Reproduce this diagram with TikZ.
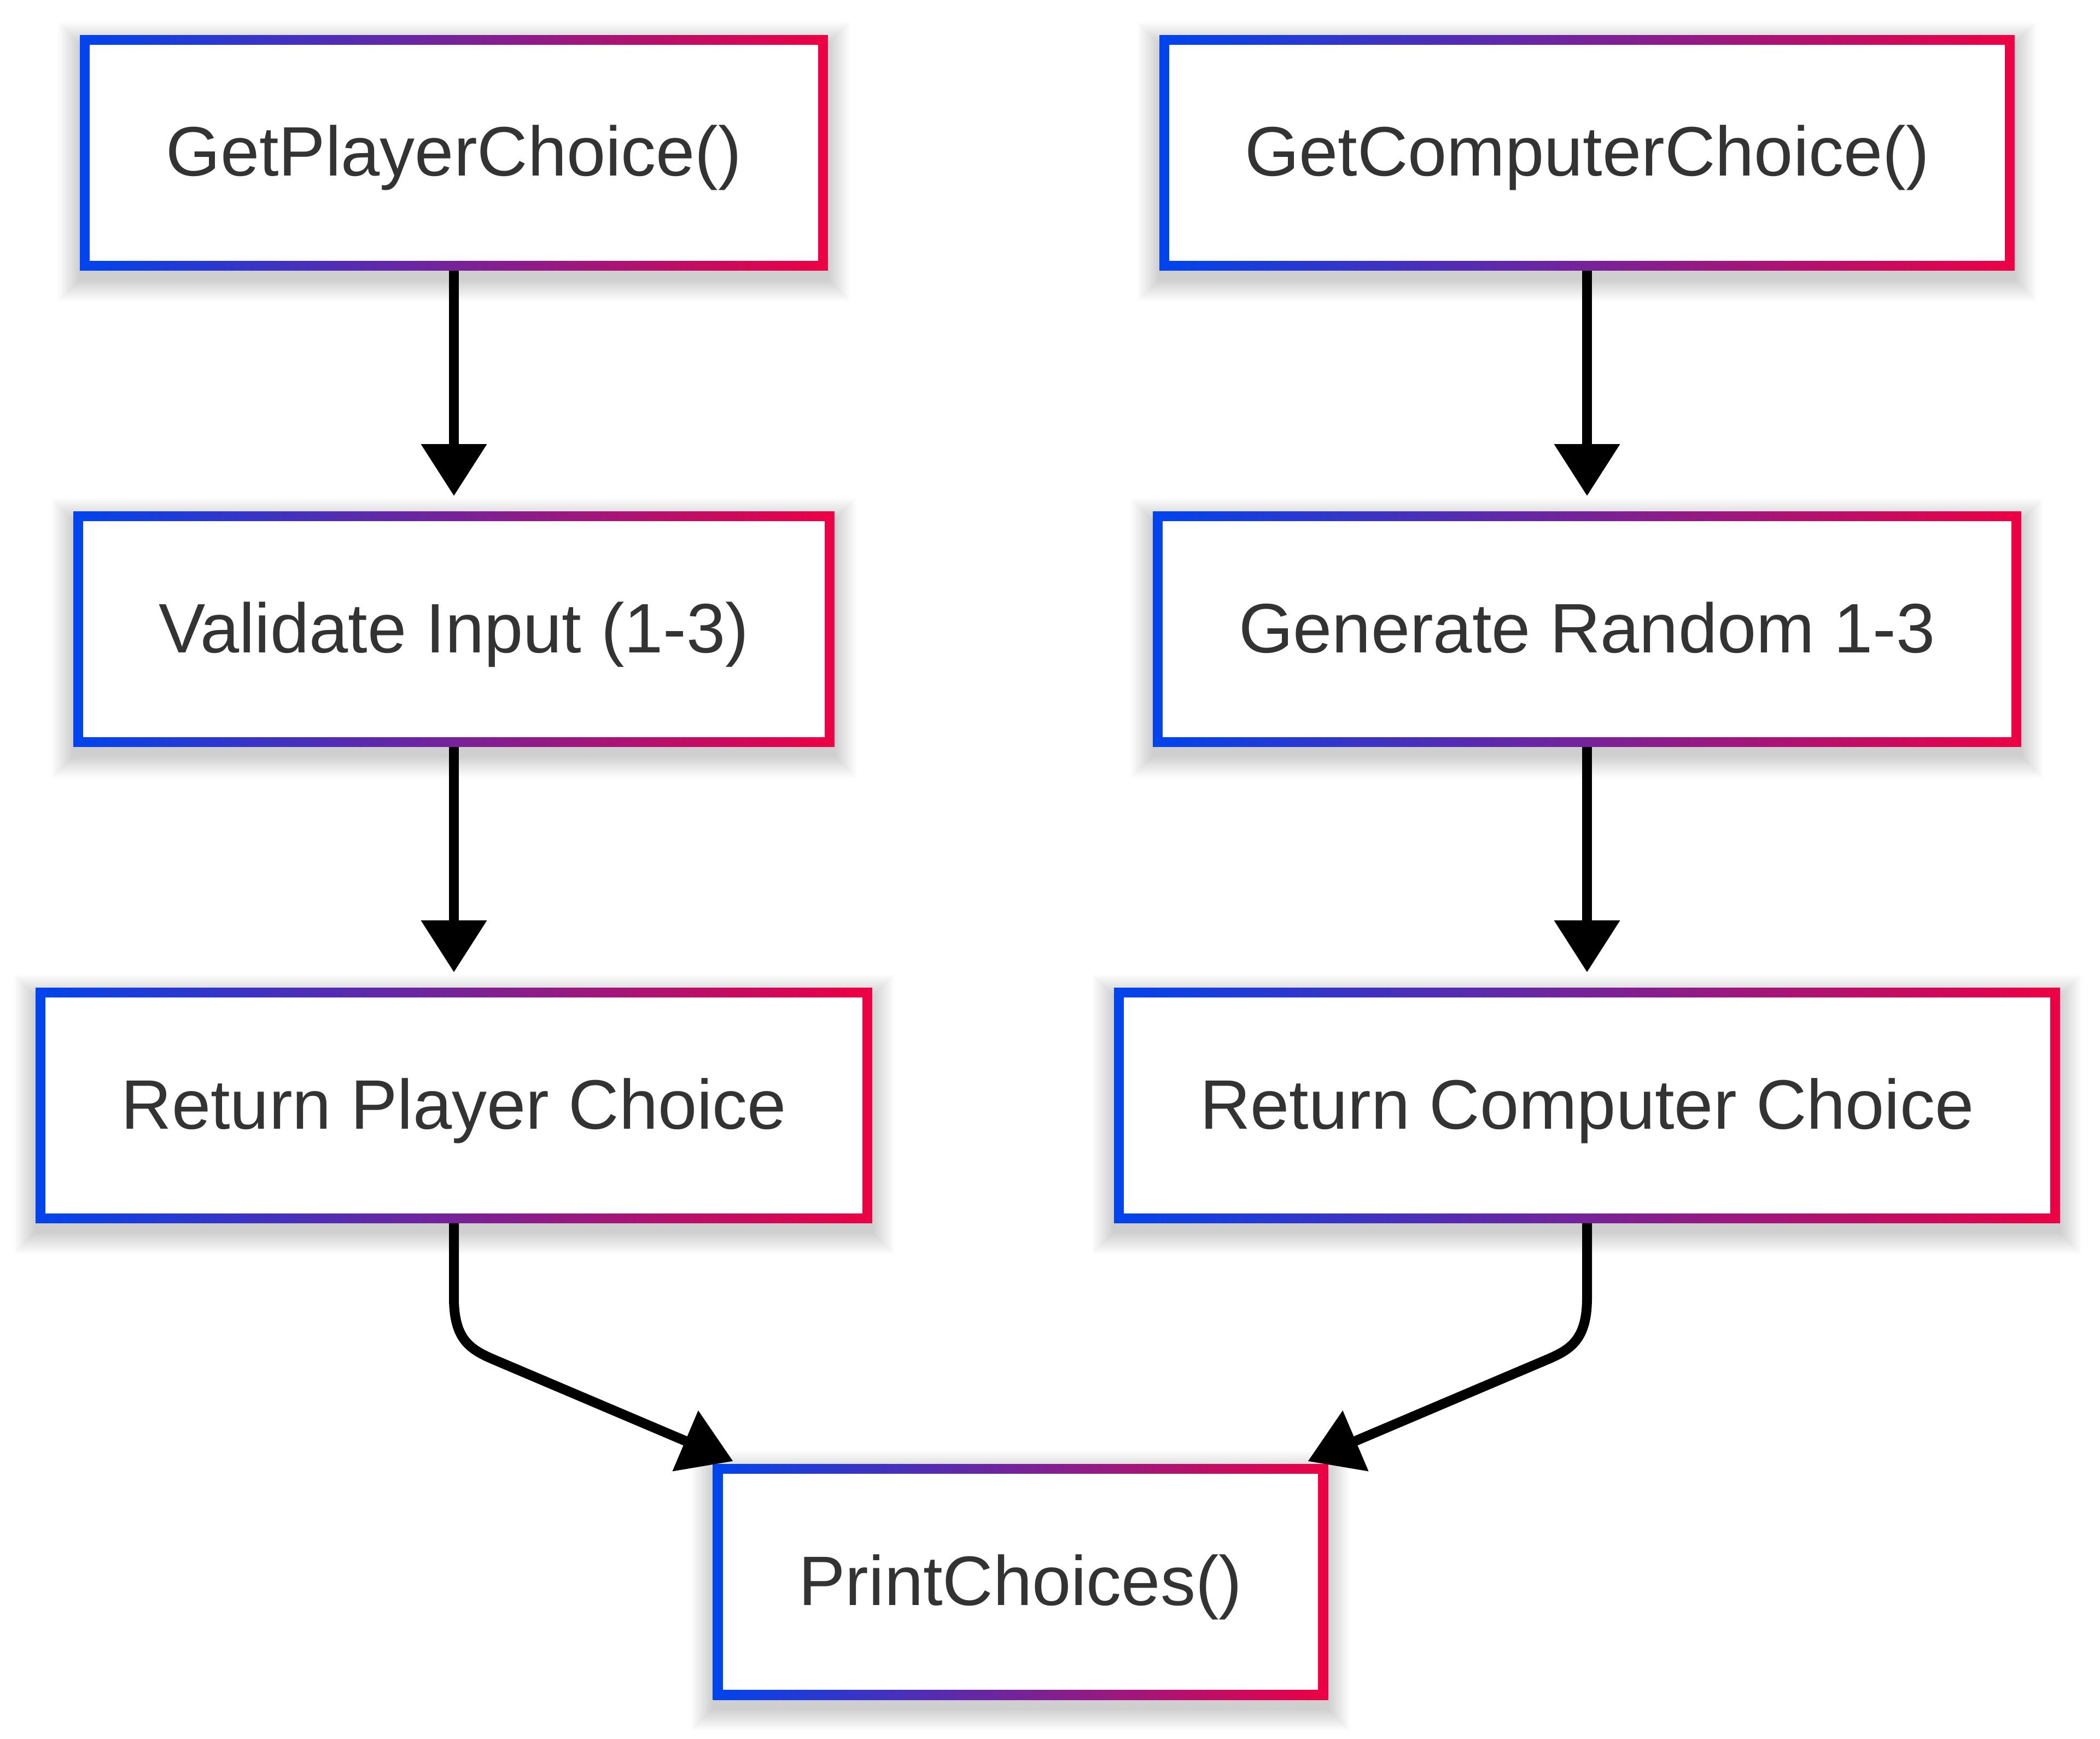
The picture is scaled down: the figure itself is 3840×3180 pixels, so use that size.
\documentclass[tikz,border=0pt]{standalone}
\usepackage{fontspec}
\setmainfont{Liberation Sans}
\usetikzlibrary{arrows.meta,backgrounds}
\definecolor{gl}{HTML}{0044EE}
\definecolor{gr}{HTML}{EE0044}
\definecolor{txt}{HTML}{333333}
\tikzset{
  box/.style={minimum height=43.1pt, inner sep=0pt, outer sep=0pt, text=txt,
    text height=9.6pt, text depth=1.1pt,
    font=\fontsize{12.8pt}{15pt}\selectfont, fill=white,
    path picture={
      \shade[left color=gl, right color=gr] (path picture bounding box.south west) rectangle (path picture bounding box.north east);
      \fill[white] ([shift={(1.8pt,1.8pt)}]path picture bounding box.south west) rectangle ([shift={(-1.8pt,-1.8pt)}]path picture bounding box.north east);
    }},
  edge/.style={line width=1.8pt, black, -{Triangle[length=9.5pt,width=11.6pt]}},
}
\newcommand\boxshadow[1]{%
  \foreach \k in {1,...,16}{%
    \fill[black, opacity=0.011] ([shift={({-2.5*\k},{16-2.5*\k})}]#1.north west) rectangle ([shift={({2.5*\k},{16+2.5*\k})}]#1.south east);
  }%
}
\begin{document}
\begin{tikzpicture}[x=0.1pt, y=-0.1pt]
\useasboundingbox (0,0) rectangle (3840,3180);
\node[box, minimum width=136.8pt] (b1) at (830,279.5) {GetPlayerChoice()};
\node[box, minimum width=139.2pt] (b2) at (830,1150.5) {Validate Input (1-3)};
\node[box, minimum width=153.0pt] (b3) at (830,2021.5) {Return Player Choice};
\node[box, minimum width=156.4pt] (b4) at (2902,279.5) {GetComputerChoice()};
\node[box, minimum width=158.8pt] (b5) at (2902,1150.5) {Generate Random 1-3};
\node[box, minimum width=173.0pt] (b6) at (2902,2021.5) {Return Computer Choice};
\node[box, minimum width=112.5pt] (b7) at (1866,2892.5) {PrintChoices()};
\begin{scope}[on background layer]
  \fill[white] (0,0) rectangle (3840,3180);
  \boxshadow{b1}\boxshadow{b2}\boxshadow{b3}\boxshadow{b4}\boxshadow{b5}\boxshadow{b6}\boxshadow{b7}
\end{scope}
\draw[edge, shorten >=2.8pt] (b1.south) -- (b2.north);
\draw[edge, shorten >=2.8pt] (b2.south) -- (b3.north);
\draw[edge, shorten >=2.8pt] (b4.south) -- (b5.north);
\draw[edge, shorten >=2.8pt] (b5.south) -- (b6.north);
\draw[edge] (b3.south) -- (830,2373) .. controls (830,2450) and (860,2468) .. (905,2487) -- ([shift={(37,-5)}]b7.north west);
\draw[edge] (b6.south) -- (2902,2373) .. controls (2902,2450) and (2872,2468) .. (2827,2487) -- ([shift={(-37,-5)}]b7.north east);
\end{tikzpicture}
\end{document}
